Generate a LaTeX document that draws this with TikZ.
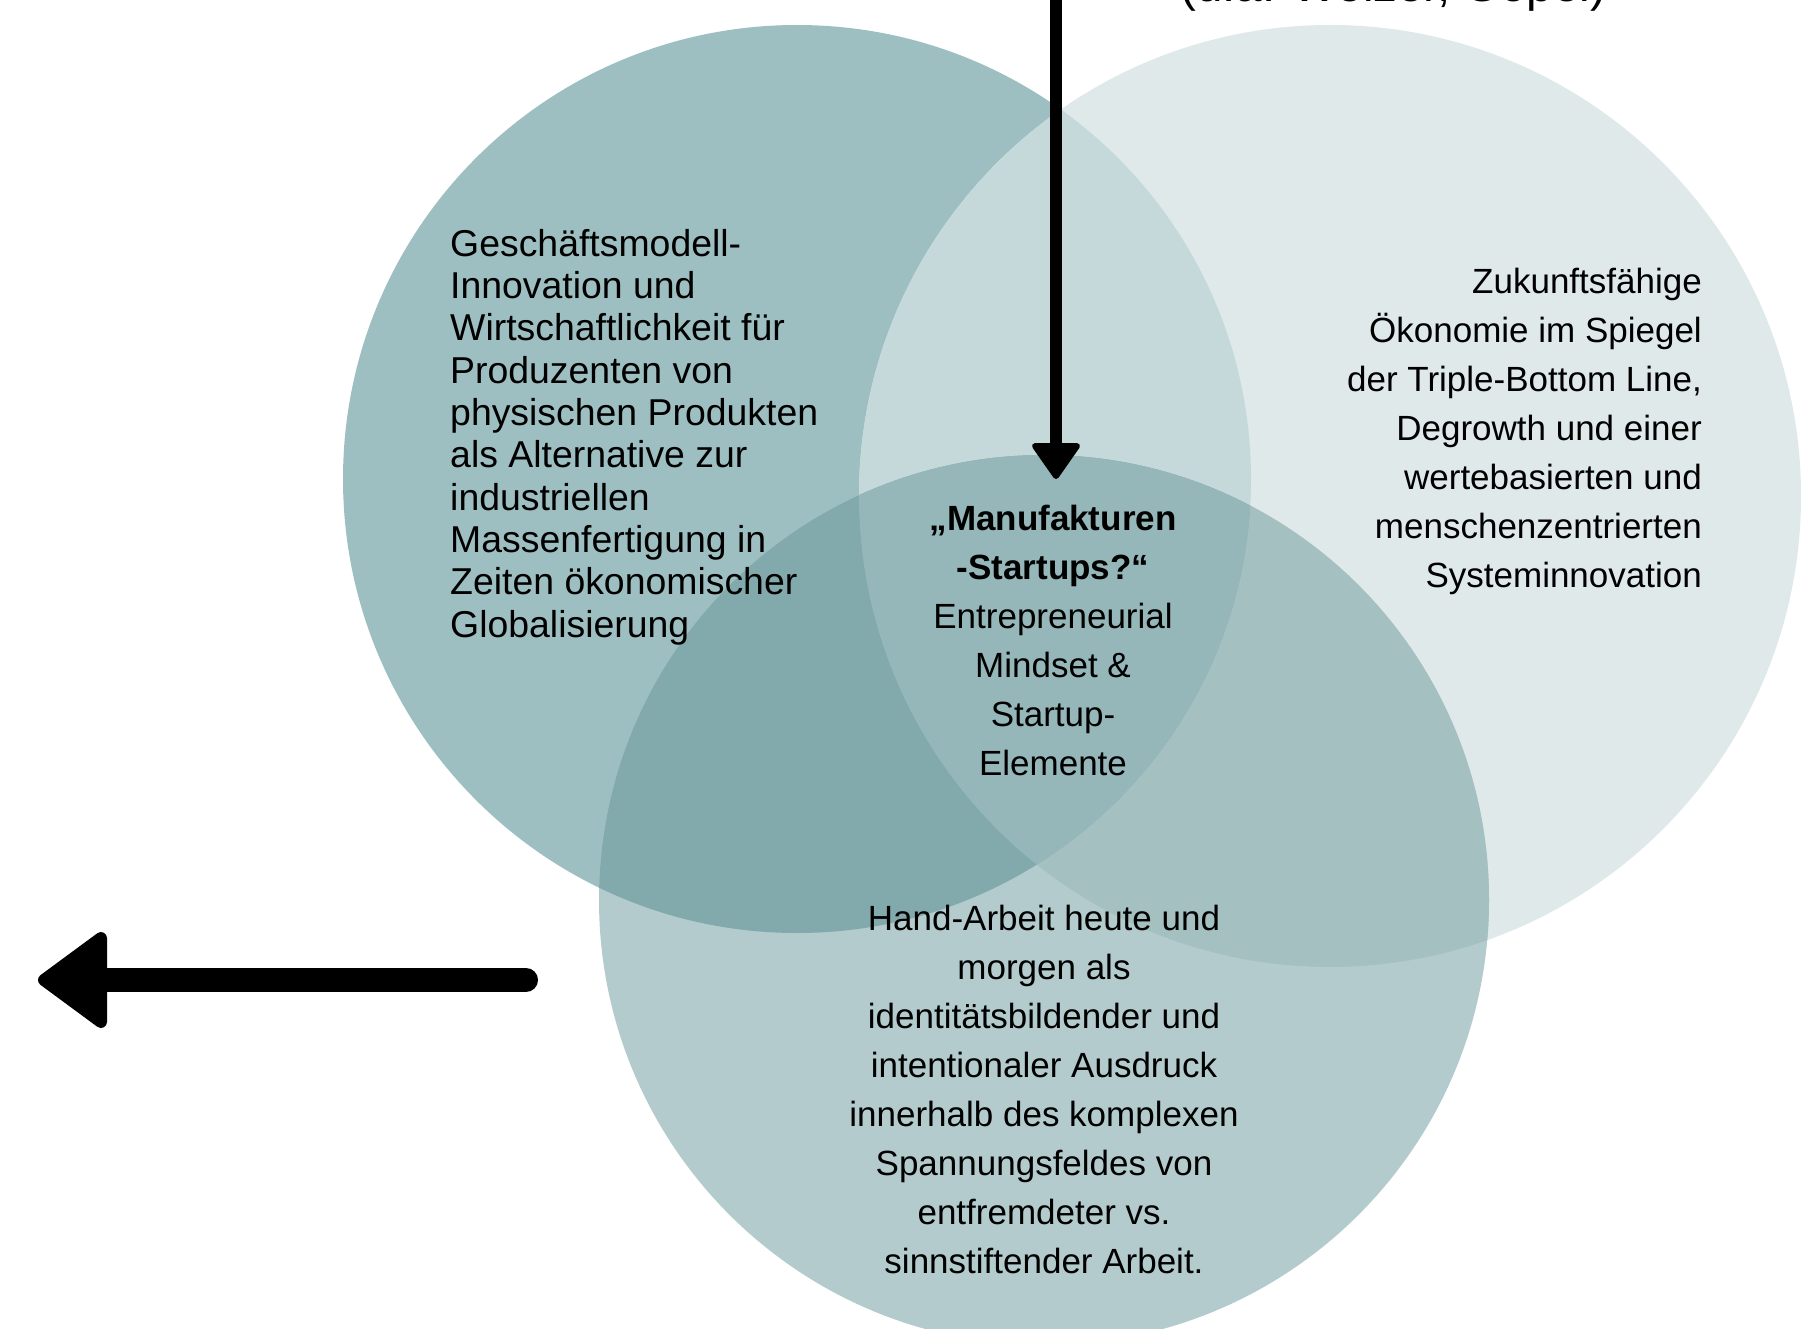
\documentclass[tikz,border=0pt]{standalone}
\usepackage{fontspec}
\setmainfont{Liberation Sans}
\definecolor{cA}{HTML}{9EBFC1}
\definecolor{cB}{HTML}{DFE9EA}
\definecolor{cC}{HTML}{B3CBCD}
\definecolor{cAB}{HTML}{C5D9DB}
\definecolor{cAC}{HTML}{82A9AB}
\definecolor{cBC}{HTML}{A5C0C1}
\definecolor{cABC}{HTML}{96B7B9}
\tikzset{
  bodytext/.style={inner sep=0pt, font=\fontsize{35pt}{48.9pt}\selectfont},
  lefttext/.style={inner sep=0pt, align=left, font=\fontsize{37.4pt}{42.3pt}\selectfont},
  shaft/.style={line width=#1, line cap=round},
  headshape/.style={fill=black, draw=black, line join=round, line width=#1},
}
\begin{document}
\begin{tikzpicture}[x=1pt,y=-1pt]
\useasboundingbox (0,0) rectangle (1801,1329);
\clip (0,0) rectangle (1801,1329);
\fill[white] (0,0) rectangle (1801,1329);
% circle centres
\coordinate (o1) at (797,479);
\coordinate (o2) at (1330,496);
\coordinate (o3) at (1044,900);
% single regions
\fill[cA] (o1) circle[radius=454];
\fill[cB] (o2) circle[radius=471];
\fill[cC] (o3) circle[radius=445];
% 2 and 3
\begin{scope}
  \clip (o2) circle[radius=471];
  \fill[cBC] (o3) circle[radius=445];
\end{scope}
% 1 with others
\begin{scope}
  \clip (o1) circle[radius=454];
  \fill[cAB] (o2) circle[radius=471];
  \fill[cAC] (o3) circle[radius=445];
  \clip (o2) circle[radius=471];
  \fill[cABC] (o3) circle[radius=445];
\end{scope}
% texts (base anchor = baseline of the last line)
\node[lefttext, anchor=base west] (ltext) at (450,637) {Geschäftsmodell-\\Innovation und\\Wirtschaftlichkeit für\\Produzenten von\\physischen Produkten\\als Alternative zur\\industriellen\\Massenfertigung in\\Zeiten ökonomischer\\Globalisierung};
\node[bodytext, align=right, anchor=base east] (rtext) at (1702,587) {Zukunftsfähige\\Ökonomie im Spiegel\\der Triple-Bottom Line,\\Degrowth und einer\\wertebasierten und\\menschenzentrierten\\Systeminnovation};
\node[bodytext, align=center, anchor=base] (ctext) at (1053,775) {\textbf{„Manufakturen}\\\textbf{-Startups?“}\\Entrepreneurial\\Mindset \&\\Startup-\\Elemente};
\node[bodytext, align=center, anchor=base] (btext) at (1044,1273) {Hand-Arbeit heute und\\morgen als\\identitätsbildender und\\intentionaler Ausdruck\\innerhalb des komplexen\\Spannungsfeldes von\\entfremdeter vs.\\sinnstiftender Arbeit.};
\node[inner sep=0pt, anchor=base west, font=\fontsize{47.5pt}{57pt}\selectfont] (ttext) at (1180,2) {(u.a. Welzer, Göpel)};
% vertical arrow
\coordinate (vstart) at (1056,-20);
\coordinate (vend) at (1056,452);
\draw[shaft=12pt] (vstart) -- (vend);
\path[headshape=6pt] (1035,446) -- (1077,446) -- (1056,476) -- cycle;
% horizontal arrow
\coordinate (hstart) at (526,980);
\coordinate (hend) at (100,980);
\draw[shaft=24pt] (hstart) -- (hend);
\path[headshape=12pt] (101,938) -- (101,1022) -- (44,980) -- cycle;
\end{tikzpicture}
\end{document}
